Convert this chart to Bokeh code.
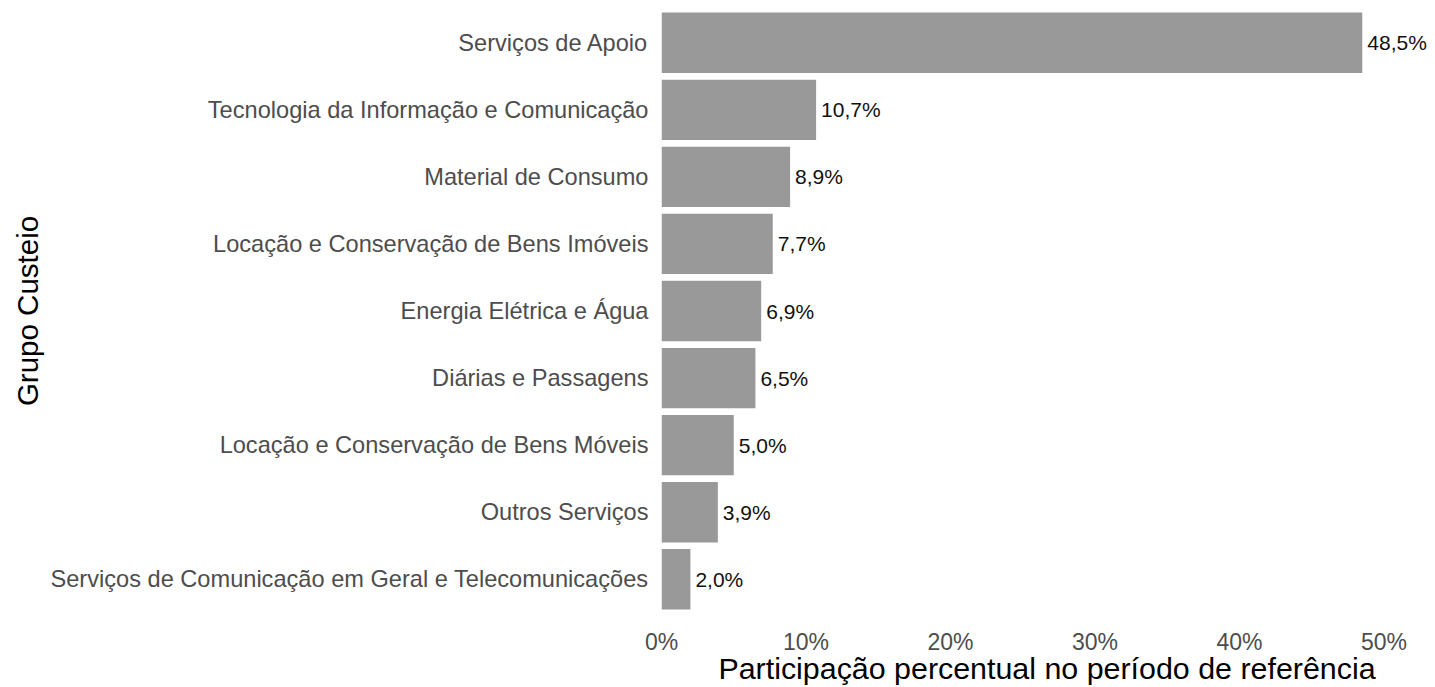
from bokeh.plotting import figure
from bokeh.models import ColumnDataSource, FactorRange, Range1d, FixedTicker, PrintfTickFormatter
from bokeh.core.properties import value
from bokeh.embed import file_html
from bokeh.resources import INLINE

categories = [
    "Serviços de Apoio",
    "Tecnologia da Informação e Comunicação",
    "Material de Consumo",
    "Locação e Conservação de Bens Imóveis",
    "Energia Elétrica e Água",
    "Diárias e Passagens",
    "Locação e Conservação de Bens Móveis",
    "Outros Serviços",
    "Serviços de Comunicação em Geral e Telecomunicações",
]
shares = [48.5, 10.7, 8.9, 7.7, 6.9, 6.5, 5.0, 3.9, 2.0]
share_labels = ["48,5%", "10,7%", "8,9%", "7,7%", "6,9%", "6,5%", "5,0%", "3,9%", "2,0%"]
x_ticks = [0, 10, 20, 30, 40, 50]

FONT = "Liberation Sans"

src = ColumnDataSource(dict(cat=categories, val=shares, lab=share_labels))

y_range = FactorRange(factors=list(reversed(categories)), range_padding=0.1,
                      range_padding_units="absolute")

p = figure(width=1435, height=687, y_range=y_range, x_range=Range1d(0, 53.36),
           output_backend="svg", toolbar_location=None,
           min_border_left=661, min_border_right=3, min_border_top=2, min_border_bottom=66)

p.hbar(y="cat", right="val", left=0, height=0.9, source=src, color="#999999", line_color=None)
p.text(x="val", y="cat", text="lab", source=src, x_offset=5, text_baseline="middle",
       text_align="left", text_font=value(FONT), text_font_size="21px", text_color="#111111")

p.outline_line_color = None
p.xgrid.grid_line_color = None
p.ygrid.grid_line_color = None

p.xaxis.ticker = FixedTicker(ticks=x_ticks)
p.xaxis.formatter = PrintfTickFormatter(format="%d%%")
p.xaxis.axis_label = "Participação percentual no período de referência"
p.yaxis.axis_label = "Grupo Custeio"

for ax in (p.xaxis[0], p.yaxis[0]):
    ax.axis_line_color = None
    ax.major_tick_line_color = None
    ax.minor_tick_line_color = None
    ax.major_label_text_font = FONT
    ax.major_label_text_color = "#4d4d4d"
    ax.axis_label_text_font = FONT
    ax.axis_label_text_font_style = "normal"
    ax.axis_label_text_color = "black"

p.xaxis.major_label_text_font_size = "23px"
p.yaxis.major_label_text_font_size = "23.6px"
p.xaxis.axis_label_text_font_size = "30.4px"
p.yaxis.axis_label_text_font_size = "29.5px"

p.xaxis.major_label_standoff = 3
p.xaxis.axis_label_standoff = -7
p.yaxis.major_label_standoff = 7
p.yaxis.axis_label_standoff = 4

open("out.html", "w").write(file_html(p, INLINE))
